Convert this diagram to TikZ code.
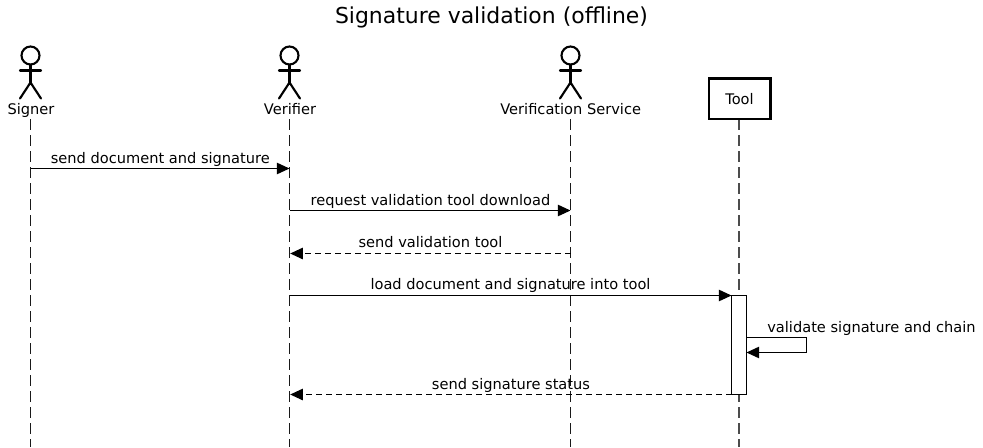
\documentclass[tikz,border=0pt]{standalone}
\usepackage{fontspec}
\setmainfont{DejaVu Sans}
\usetikzlibrary{arrows.meta}
\tikzset{
 x=0.75pt,y=-0.75pt,
 lbl/.style={inner sep=0pt,font=\fontsize{10.95pt}{13pt}\selectfont,text=black,anchor=base},
 lifeline/.style={draw=black!90,line width=1.15pt,dash pattern=on 8.25pt off 3.75pt},
 softline/.style={lifeline,draw=black!70,line width=1pt},
 msg/.style={draw=black,line width=0.85pt,-{Triangle[length=9.5pt,width=8.6pt]}},
 ret/.style={msg,dash pattern=on 4.5pt off 3pt},
 act/.style={line width=1.6pt,line cap=round,line join=round},
 toolbox/.style={draw=black,line width=2pt,fill=white,inner sep=0pt,minimum width=46pt,minimum height=30.5pt,font=\fontsize{10.95pt}{13pt}\selectfont},
 activ/.style={draw=black,line width=0.85pt,fill=white,inner sep=0pt,minimum width=11pt,minimum height=74.5pt}
}
\newcommand{\actorfig}[1]{%
 \draw[act] (#1,55.5) circle[radius=6.75pt];
 \draw[act] (#1,65) -- (#1,82.5);
 \draw[act] (#1-10.5,70.5) -- (#1+10.5,70.5);
 \draw[act] (#1-10.5,98.5) -- (#1,82.5) -- (#1+10.5,98.5);
}
\begin{document}
\begin{tikzpicture}
\useasboundingbox (0,0) rectangle (983,447);
\fill[white] (0,0) rectangle (983,447);
\node[inner sep=0pt,anchor=base,font=\fontsize{16.45pt}{19pt}\selectfont,text=black] (title) at (491.5,23.3) {Signature validation (offline)};
\coordinate (s0) at (30.5,119); \coordinate (s1) at (30.5,447);
\coordinate (v0) at (289.5,119); \coordinate (v1) at (289.5,447);
\coordinate (c0) at (570.5,119); \coordinate (c1) at (570.5,447);
\coordinate (t0) at (739,119); \coordinate (t1) at (739,447);
\draw[lifeline] (s0) -- (s1);
\draw[lifeline] (v0) -- (v1);
\draw[lifeline] (c0) -- (c1);
\draw[softline] (t0) -- (t1);
\actorfig{30.5}
\actorfig{289.5}
\actorfig{570.5}
\node[lbl] (signer) at (31,114.3) {Signer};
\node[lbl] (verifier) at (290,114.3) {Verifier};
\node[lbl] (service) at (570.7,114.3) {Verification Service};
\node[toolbox] (tool) at (739.5,98.7) {};
\node[lbl] (tooltext) at (739.5,104) {Tool};
\node[activ] (ab) at (739,345) {};
\coordinate (m1a) at (30.5,168.5); \coordinate (m1b) at (289.5,168.5);
\coordinate (m2a) at (289.5,210.5); \coordinate (m2b) at (570.5,210.5);
\coordinate (m3a) at (570.5,253.5); \coordinate (m3b) at (290.2,253.5);
\coordinate (m4a) at (289.5,295.5); \coordinate (m4b) at (731.5,295.5);
\coordinate (m5a) at (746.5,337.5); \coordinate (m5c) at (806.5,337.5); \coordinate (m5d) at (806.5,352.5); \coordinate (m5b) at (746.5,352.5);
\coordinate (m6a) at (731.5,394.5); \coordinate (m6b) at (290.2,394.5);
\draw[msg] (m1a) -- (m1b);
\draw[msg] (m2a) -- (m2b);
\draw[ret] (m3a) -- (m3b);
\draw[msg] (m4a) -- (m4b);
\draw[msg] (m5a) -- (m5c) -- (m5d) -- (m5b);
\draw[ret] (m6a) -- (m6b);
\node[lbl] (l1) at (160.3,163.2) {send document and signature};
\node[lbl] (l2) at (430.5,205.2) {request validation tool download};
\node[lbl] (l3) at (430.5,247.2) {send validation tool};
\node[lbl] (l4) at (510.5,289.2) {load document and signature into tool};
\node[lbl] (l5) at (871.5,332.2) {validate signature and chain};
\node[lbl] (l6) at (511,389.2) {send signature status};
\end{tikzpicture}
\end{document}
